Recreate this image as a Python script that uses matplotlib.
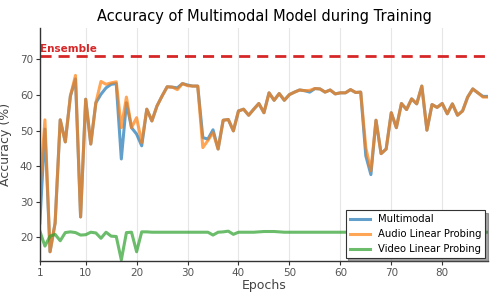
import matplotlib
matplotlib.use("Agg")
import matplotlib.pyplot as plt
import numpy as np

epochs = list(range(1, 90))

multimodal = [24.0, 50.4, 15.9, 24.0, 53.0, 46.8, 59.7, 64.5, 25.7, 58.8,
              46.2, 57.8, 60.2, 62.0, 63.0, 63.2, 42.0, 57.8, 50.8, 49.0,
              45.7, 56.0, 52.7, 56.9, 59.7, 62.3, 62.2, 62.0, 63.2, 62.8,
              62.5, 62.5, 48.0, 47.6, 50.2, 44.8, 52.9, 53.1, 49.9, 55.5,
              56.0, 54.3, 56.0, 57.6, 55.0, 60.6, 58.5, 60.4, 58.5, 60.1,
              60.8, 61.4, 61.2, 60.8, 61.8, 61.7, 60.8, 61.4, 60.3, 60.6,
              60.6, 61.5, 60.7, 60.8, 42.9, 37.6, 52.9, 43.5, 44.8, 55.0,
              50.8, 57.6, 55.9, 58.9, 57.5, 62.5, 50.1, 57.3, 56.5, 57.6,
              54.7, 57.5, 54.3, 55.5, 59.4, 61.7, 60.6, 59.6, 59.6]

audio = [33.0, 53.0, 15.9, 24.0, 53.0, 46.8, 59.7, 65.5, 25.7, 58.8,
         46.2, 57.8, 63.8, 63.0, 63.4, 63.7, 50.8, 59.4, 50.8, 53.6,
         46.6, 56.0, 52.7, 56.9, 59.7, 62.3, 62.2, 61.5, 63.2, 62.6,
         62.5, 62.5, 45.2, 47.2, 49.4, 44.8, 52.9, 53.1, 49.9, 55.5,
         56.0, 54.3, 56.0, 57.6, 55.0, 60.6, 58.5, 60.4, 58.5, 60.1,
         60.8, 61.4, 61.2, 61.3, 61.8, 61.7, 60.8, 61.4, 60.3, 60.6,
         60.6, 61.5, 60.7, 60.8, 45.2, 38.7, 52.9, 43.5, 44.8, 55.0,
         50.8, 57.6, 55.9, 58.9, 57.5, 62.5, 50.1, 57.3, 56.5, 57.6,
         54.7, 57.5, 54.3, 55.5, 59.4, 61.7, 60.6, 59.4, 59.4]

video = [21.7, 17.5, 20.3, 20.8, 19.0, 21.3, 21.5, 21.3, 20.6, 20.7,
         21.4, 21.2, 19.7, 21.4, 20.3, 20.2, 13.6, 21.3, 21.4, 15.9,
         21.5, 21.5, 21.4, 21.4, 21.4, 21.4, 21.4, 21.4, 21.4, 21.4,
         21.4, 21.4, 21.4, 21.4, 20.6, 21.4, 21.5, 21.7, 20.8, 21.4,
         21.4, 21.4, 21.4, 21.5, 21.6, 21.6, 21.6, 21.5, 21.4, 21.4,
         21.4, 21.4, 21.4, 21.4, 21.4, 21.4, 21.4, 21.4, 21.4, 21.4,
         21.4, 21.4, 21.4, 21.4, 21.4, 21.4, 21.4, 21.4, 21.4, 21.4,
         21.4, 21.4, 21.4, 21.4, 21.4, 21.4, 21.4, 21.4, 21.4, 21.4,
         21.4, 21.4, 21.4, 21.4, 21.4, 21.4, 21.4, 21.4, 21.4]

ensemble = 71.0
xticks = [1, 10, 20, 30, 40, 50, 60, 70, 80]
yticks = [20, 30, 40, 50, 60, 70]

fig = plt.figure(figsize=(4.98, 2.99), dpi=100)
ax = fig.add_axes([0.080, 0.127, 0.900, 0.779])

ax.plot(epochs, multimodal, color="#1f77b4", alpha=0.7, lw=2.2, label="Multimodal")
ax.plot(epochs, audio, color="#ff7f0e", alpha=0.7, lw=2.2, label="Audio Linear Probing")
ax.plot(epochs, video, color="#2ca02c", alpha=0.7, lw=2.2, label="Video Linear Probing")
ax.axhline(ensemble, color="#d62728", ls=(0, (4, 2.5)), lw=2)
ax.text(1, ensemble + 0.6, "Ensemble", color="#d62728", fontweight="bold",
        fontsize=7.5, ha="left", va="bottom")

ax.set_xlim(1, 89)
ax.set_ylim(13.3, 78.8)
ax.set_xticks(xticks)
ax.set_yticks(yticks)
ax.grid(axis="x", color="#e6e6e6", lw=0.8)
ax.set_axisbelow(True)
for s in ["top", "right"]:
    ax.spines[s].set_visible(False)
for s in ["left", "bottom"]:
    ax.spines[s].set_color("#333333")
    ax.spines[s].set_linewidth(1.0)
ax.tick_params(axis="both", labelsize=7.5, colors="#555555", length=3, pad=2)
ax.tick_params(axis="both", color="#333333")
ax.set_xlabel("Epochs", fontsize=9, color="#444444", labelpad=1)
ax.set_ylabel("Accuracy (%)", fontsize=9, color="#444444")
ax.yaxis.set_label_coords(-0.063, 0.5)
ax.set_title("Accuracy of Multimodal Model during Training", fontsize=10.5, pad=5)

leg = ax.legend(loc="lower right", fontsize=7.2, shadow=True, fancybox=False,
                framealpha=1, edgecolor="#333333", borderaxespad=0.3,
                handlelength=2.0)
leg.get_frame().set_linewidth(0.8)

fig.savefig("out.png", dpi=100)
